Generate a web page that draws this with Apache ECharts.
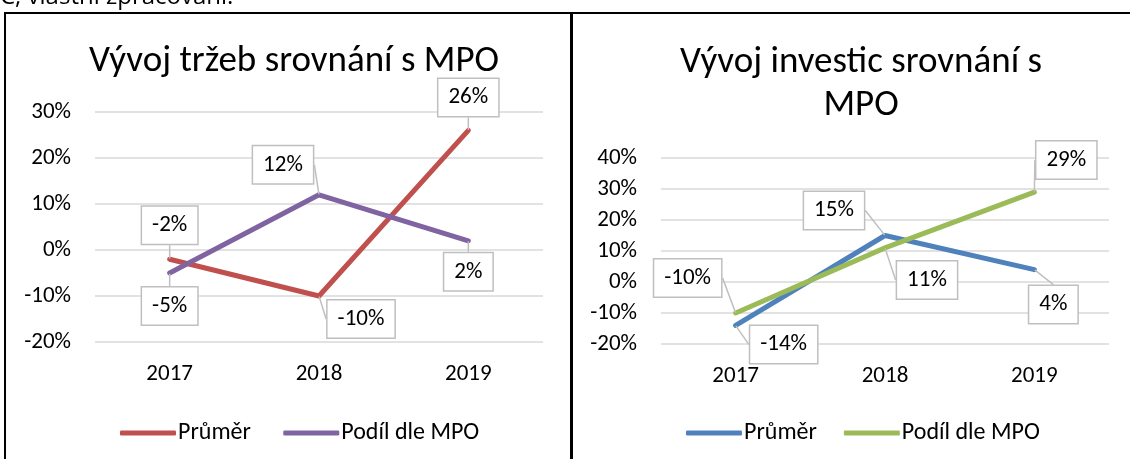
<!DOCTYPE html>
<html>
<head>
<meta charset="utf-8">
<script src="https://cdn.jsdelivr.net/npm/echarts@6/dist/echarts.min.js"></script>
<style>
html,body{margin:0;padding:0;background:#fff;}
#c{width:1130px;height:459px;}
</style>
</head>
<body>
<div id="c"></div>
<script>
// ---- data ----
const categories = ['2017', '2018', '2019'];
const seriesNames = ['Průměr', 'Podíl dle MPO'];
const revenueAvg = [-2, -10, 26];
const revenueMpo = [-5, 12, 2];
const investAvg = [-14, 15, 4];
const investMpo = [-10, 11, 29];
const titleLeft = 'Vývoj tržeb srovnání s MPO';
const titleRight = 'Vývoj investic srovnání s\nMPO';
const sourceNote = 'C, vlastní zpracování.';

// ---- styling (label callout offsets relative to points) ----
const labelOffsets = [
  [[0, -34], [42, 23], [0, -33]],    // revenue avg
  [[0, 33], [-36, -30], [0, 31]],    // revenue mpo
  [[48, 19], [-51, -25], [19, 35]],  // invest avg
  [[-48, -35], [42, 32], [32, -32]]  // invest mpo
];
const FONT = 'Carlito, Calibri, Lato, sans-serif';
const colors = ['#C0504D', '#8064A2', '#4F81BD', '#9BBB59'];

function makeSeries(name, data, idx, axisIdx) {
  return {
    name: name,
    type: 'line',
    xAxisIndex: axisIdx,
    yAxisIndex: axisIdx,
    data: data,
    symbol: 'circle',
    symbolSize: 1,
    itemStyle: { color: colors[idx] },
    lineStyle: { color: colors[idx], width: 5, cap: 'round', join: 'round' },
    z: 2,
    label: {
      show: true,
      formatter: '{c}%',
      fontFamily: FONT,
      fontSize: 23,
      lineHeight: 24,
      color: '#000',
      backgroundColor: '#fff',
      borderColor: '#bfbfbf',
      borderWidth: 1.5,
      padding: [7, 10, 6, 10]
    },
    labelLine: { show: true, lineStyle: { color: '#bfbfbf', width: 1.5 } },
    labelLayout: function (p) {
      const o = labelOffsets[idx][p.dataIndex];
      return {
        x: p.rect.x + p.rect.width / 2 + o[0],
        y: p.rect.y + p.rect.height / 2 + o[1],
        align: 'center',
        verticalAlign: 'middle'
      };
    }
  };
}

function xAx(gi) {
  return {
    type: 'category', gridIndex: gi, data: categories, boundaryGap: true,
    axisLine: { show: false }, axisTick: { show: false },
    axisLabel: { fontFamily: FONT, fontSize: 23, color: '#000', margin: 21 }
  };
}
function yAx(gi, min, max) {
  return {
    type: 'value', gridIndex: gi, min: min, max: max, interval: 10,
    axisLine: { show: false }, axisTick: { show: false },
    splitLine: { lineStyle: { color: '#d9d9d9', width: 1.5 } },
    axisLabel: { fontFamily: FONT, fontSize: 23, color: '#000', margin: 24, formatter: '{value}%' }
  };
}

const chart = echarts.init(document.getElementById('c'));
chart.setOption({
  animation: false,
  backgroundColor: '#fff',
  title: [
    { text: titleLeft, left: 289, top: 38, textAlign: 'center',
      textStyle: { fontFamily: FONT, fontSize: 37, fontWeight: 'normal', color: '#000' } },
    { text: titleRight, left: 856, top: 36, textAlign: 'center',
      textStyle: { fontFamily: FONT, fontSize: 37, fontWeight: 'normal', color: '#000', lineHeight: 43 } }
  ],
  legend: [
    { left: 115, top: 416, itemWidth: 56, itemHeight: 5, itemGap: 27, icon: 'roundRect',
      data: [{ name: seriesNames[0] + ' ', itemStyle: { color: colors[0] } }, { name: seriesNames[1] + ' ', itemStyle: { color: colors[1] } }],
      textStyle: { fontFamily: FONT, fontSize: 24, color: '#000', padding: [0, 0, 0, -3] } },
    { left: 681, top: 416, itemWidth: 56, itemHeight: 5, itemGap: 27, icon: 'roundRect',
      data: [{ name: seriesNames[0], itemStyle: { color: colors[2] } }, { name: seriesNames[1], itemStyle: { color: colors[3] } }],
      textStyle: { fontFamily: FONT, fontSize: 24, color: '#000', padding: [0, 0, 0, -3] } }
  ],
  grid: [
    { left: 95, top: 112, width: 448, height: 230 },
    { left: 661, top: 158, width: 448, height: 186 }
  ],
  xAxis: [xAx(0), xAx(1)],
  yAxis: [yAx(0, -20, 30), yAx(1, -20, 40)],
  series: [
    makeSeries(seriesNames[0] + ' ', revenueAvg, 0, 0),
    makeSeries(seriesNames[1] + ' ', revenueMpo, 1, 0),
    makeSeries(seriesNames[0], investAvg, 2, 1),
    makeSeries(seriesNames[1], investMpo, 3, 1)
  ],
  graphic: [
    { type: 'rect', shape: { x: 5, y: 13, width: 566, height: 460 },
      style: { fill: 'none', stroke: '#000', lineWidth: 2 }, z: 100 },
    { type: 'rect', shape: { x: 572, y: 13, width: 570, height: 460 },
      style: { fill: 'none', stroke: '#000', lineWidth: 2 }, z: 100 },
    { type: 'text', left: 0, top: -15,
      style: { text: sourceNote, font: '24px "Open Sans", sans-serif', fill: '#000' } }
  ]
});
</script>
</body>
</html>
